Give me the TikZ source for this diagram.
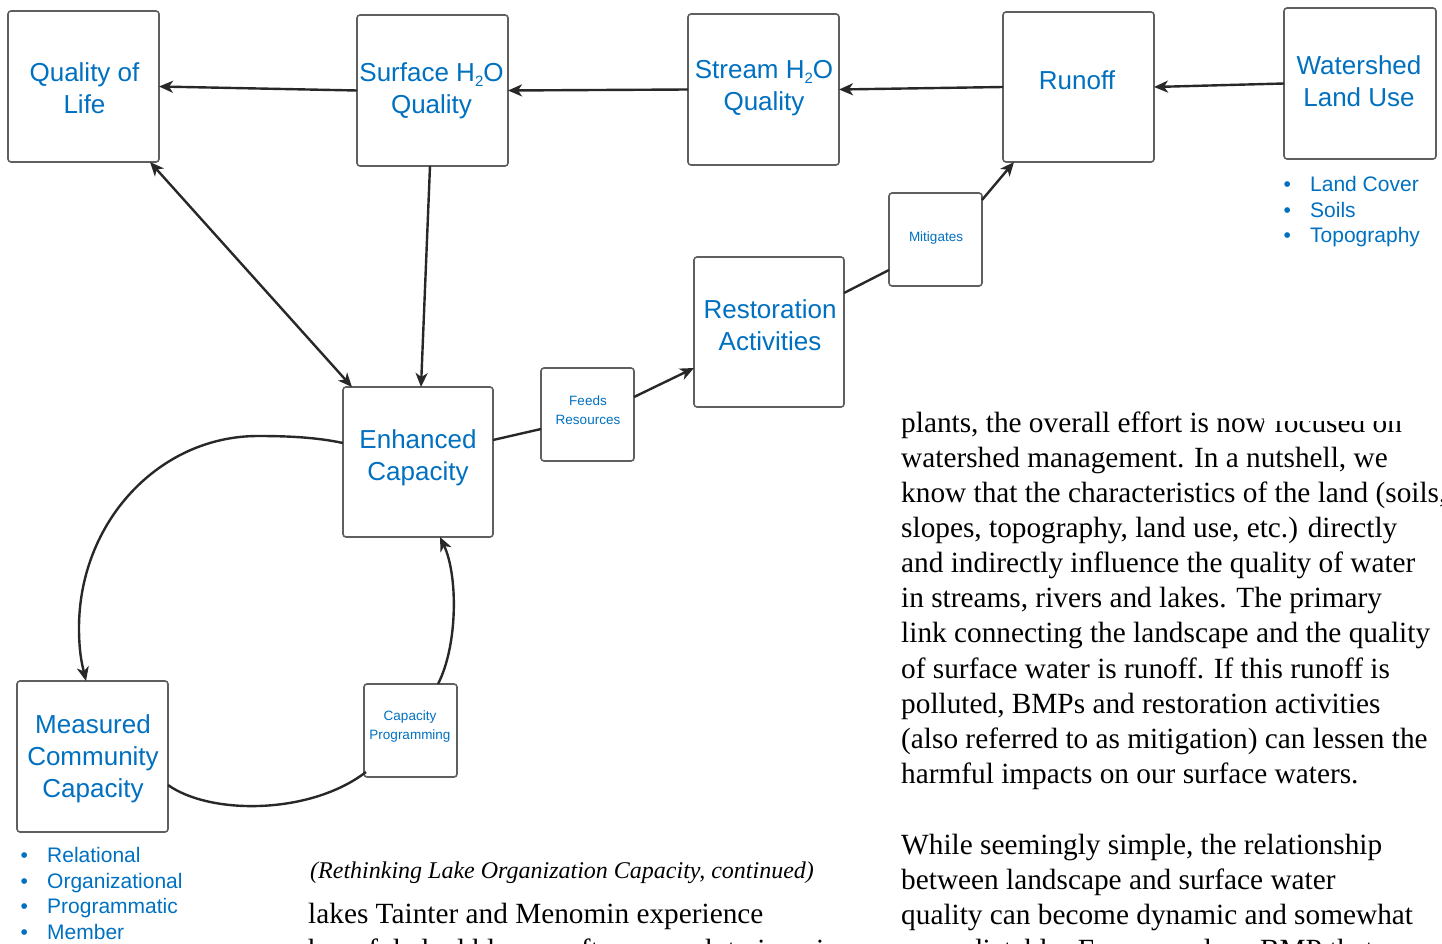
\documentclass[tikz,border=0pt]{standalone}
\usepackage{fontspec}
\setmainfont{Liberation Serif}
\newfontfamily\arialf{Liberation Sans}
\usetikzlibrary{arrows.meta}
\definecolor{bluetxt}{RGB}{0,112,192}
\definecolor{boxgray}{RGB}{95,95,95}
\definecolor{linecol}{RGB}{40,40,40}
\newcommand{\subtwo}{\raisebox{-5pt}{\fontsize{15}{15}\selectfont 2}}
\newcommand{\bulitem}{\makebox[26.5pt][l]{\textbullet}}
\begin{document}
\begin{tikzpicture}[x=1pt,y=-1pt,
  box/.style={draw=boxgray, line width=1.6pt, rounded corners=3pt, fill=white, inner sep=0pt, outer sep=0pt},
  big/.style={box, minimum width=151pt, minimum height=151pt},
  small/.style={box, minimum width=93pt, minimum height=93pt},
  bigtxt/.style={anchor=base, align=center, text=bluetxt, font=\arialf\fontsize{26}{32}\selectfont, inner sep=0pt},
  smalltxt/.style={anchor=base, align=center, text=bluetxt, font=\arialf\fontsize{13.5}{19.5}\selectfont, inner sep=0pt},
  bul/.style={anchor=base west, align=left, text=bluetxt, font=\arialf\fontsize{21}{25.6}\selectfont, inner sep=0pt},
  body/.style={anchor=base west, align=left, font=\fontsize{29.3}{35.15}\selectfont, inner sep=0pt},
  conn/.style={draw=linecol, line width=2.4pt},
  arr/.style={conn, ->},
  >={Stealth[length=14pt,width=12pt,inset=4pt]},
]
\useasboundingbox (0,0) rectangle (1442,944);
\clip (0,0) rectangle (1442,944);

% boxes
\node[big] (qol) at (83.5,86.5) {};
\node[big] (sq) at (432.5,90.5) {};
\node[big] (st) at (763.5,89.5) {};
\node[big, minimum height=150pt] (ro) at (1078.5,87) {};
\node[big, minimum width=152pt] (wl) at (1360,83.5) {};
\node[small] (mi) at (935.5,239.5) {};
\node[big, minimum width=150pt, minimum height=150pt] (ra) at (769,332) {};
\node[small] (fr) at (587.5,414.5) {};
\node[big, minimum width=150pt, minimum height=150pt] (ec) at (418,462) {};
\node[small] (cp) at (410.5,730.5) {};
\node[big] (mc) at (92.5,756.5) {};

% box texts (anchor = baseline of last line)
\node[bigtxt] (tqol) at (84.5,114) {Quality of\\Life};
\node[bigtxt] (tsq) at (431.5,114) {Surface H\subtwo O\\Quality};
\node[bigtxt] (tst) at (764,111) {Stream H\subtwo O\\Quality};
\node[bigtxt] (tro) at (1077,90) {Runoff};
\node[bigtxt] (twl) at (1359,107) {Watershed\\Land Use};
\node[bigtxt] (tra) at (770,350) {Restoration\\Activities};
\node[bigtxt] (tec) at (418,480) {Enhanced\\Capacity};
\node[bigtxt] (tmc) at (93,797) {Measured\\Community\\Capacity};
\node[smalltxt] (tmi) at (936,241) {Mitigates};
\node[smalltxt] (tfr) at (588,424.5) {Feeds\\Resources};
\node[smalltxt] (tcp) at (410,739.5) {Capacity\\Programming};

% bullet lists
\node[bul] (lw) at (1283.5,242.7) {\bulitem Land Cover\\\bulitem Soils\\\bulitem Topography};
\node[bul] (lm) at (20.5,939.3) {\bulitem Relational\\\bulitem Organizational\\\bulitem Programmatic\\\bulitem Member};

% connectors
\draw[arr] (sq.west) -- (qol.east);
\draw[arr] (st.west) -- (sq.east);
\draw[arr] (ro.west) -- (st.east);
\draw[arr] (wl.west) -- (ro.east);
\draw[conn,<->] ([xshift=-9pt]qol.south east) -- ([xshift=9pt]ec.north west);
\draw[arr] ([xshift=-2.5pt]sq.south) -- ([xshift=3pt]ec.north);
\draw[conn] ([yshift=22pt]ec.east) -- ([yshift=-14.5pt]fr.west);
\draw[arr] ([yshift=17.5pt]fr.east) -- ([yshift=-36pt]ra.west);
\draw[conn] ([yshift=39pt]ra.east) -- ([yshift=-30.5pt]mi.west);
\draw[arr] ([yshift=-7pt]mi.north east) -- ([xshift=11pt]ro.south west);
\draw[arr] ([yshift=19pt]ec.west) .. controls (315,437) and (285,436) .. (258,436)
  .. controls (159,436) and (79,522) .. (79,628)
  .. controls (79,655) and (83,668) .. ([xshift=-6.5pt]mc.north);
\draw[conn] ([yshift=-28.5pt]mc.east) .. controls (210,815) and (310,815) .. ([xshift=2pt,yshift=5pt]cp.south west);
\draw[arr] ([xshift=27.5pt]cp.north) .. controls (458,645) and (458,575) .. ([xshift=22pt]ec.south);

% body text (anchor = baseline of last line)
\node[body] (p1) at (901,783.5) {plants, the overall effort is now focused on\\
watershed management. In a nutshell, we\\
know that the characteristics of the land (soils,\\
slopes, topography, land use, etc.) directly\\
and indirectly influence the quality of water\\
in streams, rivers and lakes. The primary\\
link connecting the landscape and the quality\\
of surface water is runoff. If this runoff is\\
polluted, BMPs and restoration activities\\
(also referred to as mitigation) can lessen the\\
harmful impacts on our surface waters.};
\fill[white] (1264,380) rectangle (1442,420.5);
\node[body] (p2) at (901,959.5) {While seemingly simple, the relationship\\
between landscape and surface water\\
quality can become dynamic and somewhat\\
unpredictable. For example, a BMP that};
\node[anchor=base west, inner sep=0pt, font=\itshape\fontsize{24}{28}\selectfont] (cap) at (310,878) {(Rethinking Lake Organization Capacity, continued)};
\node[body] (p3) at (308,959) {lakes Tainter and Menomin experience\\
harmful algal blooms often enough to impair};
\end{tikzpicture}
\end{document}
